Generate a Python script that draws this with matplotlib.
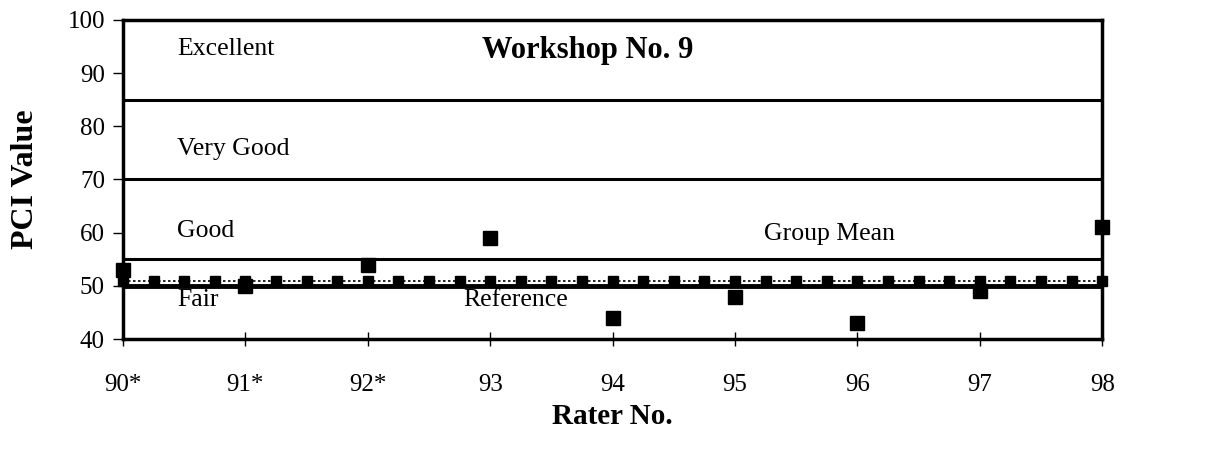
import matplotlib
matplotlib.use("Agg")
import matplotlib.pyplot as plt
import numpy as np

raters = [90, 91, 92, 93, 94, 95, 96, 97, 98]
rater_labels = ["90*", "91*", "92*", "93", "94", "95", "96", "97", "98"]
pci = [53, 50, 54, 59, 44, 48, 43, 49, 61]
group_mean = 51.0
reference = 50
band_edges = [55, 70, 85]
band_names = ["Excellent", "Very Good", "Good", "Fair"]

plt.rcParams['font.family'] = ['Liberation Serif', 'DejaVu Serif']

fig = plt.figure(figsize=(12.06, 4.51), dpi=100)
ax = fig.add_axes([0.102, 0.248, 0.812, 0.708])

ax.set_xlim(90, 98)
ax.set_ylim(40, 100)

for y in band_edges:
    ax.axhline(y, color='black', lw=2.2, zorder=2)
ax.axhline(reference, color='black', lw=3.5, zorder=2)

gx = np.arange(90, 98.01, 0.25)
ax.plot(gx, [group_mean] * len(gx), color='black', lw=1.2, ls=(0, (1.5, 1.5)),
        marker='s', ms=6.5, zorder=3, clip_on=False)

ax.plot(raters, pci, ls='none', marker='s', ms=10, color='black', zorder=4, clip_on=False)

ax.set_xticks(raters)
ax.set_xticklabels(rater_labels)
ax.set_yticks(range(40, 101, 10))
ax.tick_params(axis='x', direction='inout', length=10, width=1, labelsize=18, pad=20)
ax.tick_params(axis='y', direction='out', length=7, width=1, labelsize=18, pad=6)
for s in ax.spines.values():
    s.set_linewidth(2.5)

ax.set_ylabel("PCI Value", fontsize=23, fontweight='bold', labelpad=20)
ax.set_xlabel("Rater No.", fontsize=21, fontweight='bold', labelpad=5)

ax.text(93.8, 94.3, "Workshop No. 9", fontsize=22, fontweight='bold', va='center', ha='center')
ax.text(90.44, 94.6, band_names[0], fontsize=18.5, va='center')
ax.text(90.44, 75.7, band_names[1], fontsize=18.5, va='center')
ax.text(90.44, 60.4, band_names[2], fontsize=18.5, va='center')
ax.text(90.44, 47.4, band_names[3], fontsize=18.5, va='center')
ax.text(92.78, 47.4, "Reference", fontsize=18.5, va='center')
ax.text(95.24, 59.8, "Group Mean", fontsize=18.5, va='center')

fig.savefig("out.png", dpi=100)
